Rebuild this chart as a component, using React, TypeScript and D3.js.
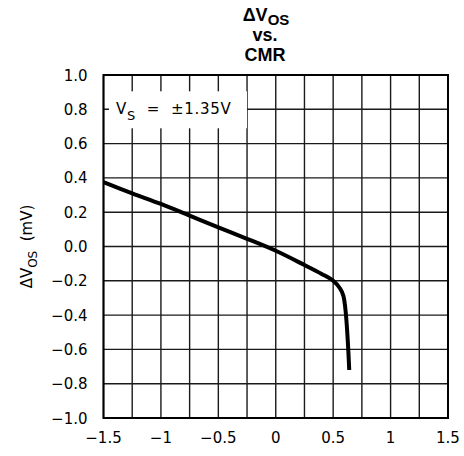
import * as React from "react";
import * as d3 from "d3";

// curve: common-mode voltage (V) vs. offset change (mV)
const cmrVolts = [-1.5, -1.25, -1.0, -0.75, -0.5, -0.25, 0, 0.25, 0.4, 0.5, 0.56, 0.59, 0.64];
const dVosMilli = [0.375, 0.31, 0.248, 0.18, 0.112, 0.045, -0.025, -0.108, -0.16, -0.2, -0.245, -0.29, -0.72];

const xTicks = [-1.5, -1, -0.5, 0, 0.5, 1, 1.5];
const yTicks = [-1.0, -0.8, -0.6, -0.4, -0.2, 0.0, 0.2, 0.4, 0.6, 0.8, 1.0];

const fmtMinus = (s: string) => s.replace("-", "\u2212");

const App = () => {
  const width = 464;
  const height = 456;
  const m = { left: 103.5, right: 16, top: 75, bottom: 38 };

  const x = d3.scaleLinear().domain([-1.5, 1.5]).range([m.left, width - m.right]);
  const y = d3.scaleLinear().domain([-1, 1]).range([height - m.bottom, m.top]);

  const xGrid = d3.range(-1.5, 1.5001, 0.25);
  const pts: [number, number][] = cmrVolts.map((v, i) => [x(v), y(dVosMilli[i])]);
  const line = d3.line().curve(d3.curveCatmullRom.alpha(0.5))(pts);

  const font = "'DejaVu Sans', sans-serif";
  const titleFont = "'Liberation Sans', Arial, sans-serif";

  return (
    <svg
      width={width}
      height={height}
      style={{ position: "absolute", left: 0, top: 0, background: "#fff" }}
    >
      {/* title */}
      <g fontFamily={titleFont} fontWeight="bold" fontSize={18} textAnchor="middle">
        <text x={266} y={21}>
          ΔV<tspan fontSize={15} dy={4}>OS</tspan>
        </text>
        <text x={265} y={41}>vs.</text>
        <text x={265} y={61}>CMR</text>
      </g>

      {/* grid */}
      <g stroke="#1a1a1a" strokeWidth={1.4}>
        {xGrid.map(v => (
          <line key={"gx" + v} x1={x(v)} x2={x(v)} y1={y(-1)} y2={y(1)} />
        ))}
        {yTicks.map(v => (
          <line key={"gy" + v} x1={x(-1.5)} x2={x(1.5)} y1={y(v)} y2={y(v)} />
        ))}
      </g>
      <rect
        x={x(-1.5)}
        y={y(1)}
        width={x(1.5) - x(-1.5)}
        height={y(-1) - y(1)}
        fill="none"
        stroke="#000"
        strokeWidth={2}
      />

      {/* annotation box */}
      <rect x={109} y={y(0.8) - 18} width={138} height={37} fill="#fff" />
      <text
        x={116}
        y={y(0.8) + 5}
        fontFamily={font}
        fontSize={15}
        fill="#000"
        letterSpacing={0.7}
        style={{ whiteSpace: "pre" }}
      >
        V<tspan fontSize={13} dy={6}>S</tspan>
        <tspan dy={-6}>{"  =  \u00b11.35V"}</tspan>
      </text>

      {/* curve */}
      <path d={line ?? ""} fill="none" stroke="#000" strokeWidth={4} strokeLinejoin="round" />

      {/* y tick labels */}
      <g fontFamily={font} fontSize={15} textAnchor="end">
        {yTicks.map(v => (
          <text key={"yl" + v} x={m.left - 16} y={y(v) + 5.5}>
            {fmtMinus(v.toFixed(1))}
          </text>
        ))}
      </g>

      {/* x tick labels */}
      <g fontFamily={font} fontSize={15} textAnchor="middle">
        {xTicks.map(v => (
          <text key={"xl" + v} x={x(v)} y={height - m.bottom + 25}>
            {fmtMinus(String(v))}
          </text>
        ))}
      </g>

      {/* y axis title */}
      <text
        transform={`translate(32,${y(0)}) rotate(-90)`}
        fontFamily={font}
        fontSize={15}
        textAnchor="middle"
        style={{ whiteSpace: "pre" }}
      >
        ΔV<tspan fontSize={12} dy={5}>OS</tspan>
        <tspan dy={-5}>{"  (mV)"}</tspan>
      </text>
    </svg>
  );
};

export default App;
